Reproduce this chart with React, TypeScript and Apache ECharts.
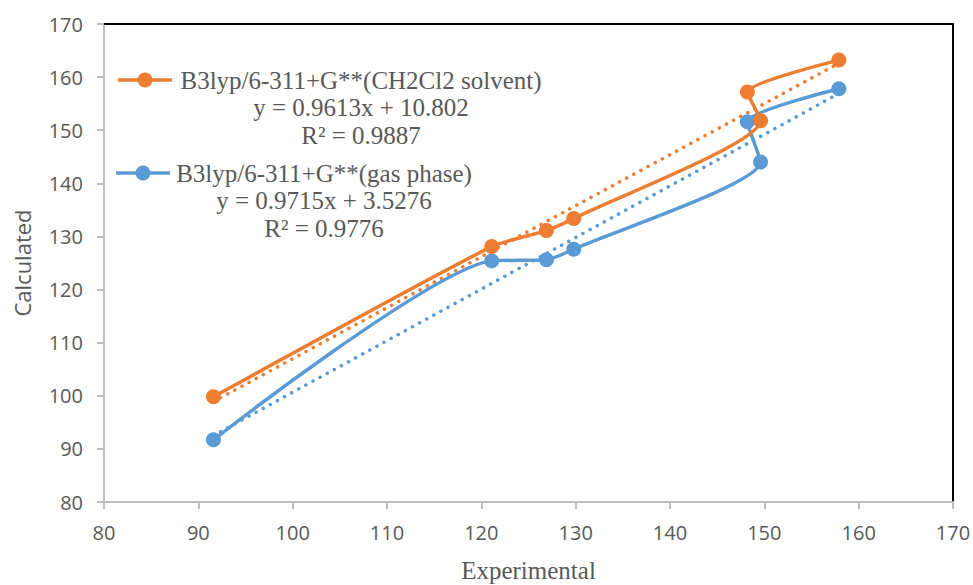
import React, { useEffect, useRef } from 'react';
import * as echarts from 'echarts';

const experimental = [91.6, 121.1, 126.9, 129.8, 149.6, 148.2, 157.9];
const solventCalc = [99.8, 128.1, 131.1, 133.4, 151.8, 157.2, 163.2];
const gasCalc = [91.7, 125.4, 125.6, 127.6, 144.0, 151.6, 157.8];

const solventTrend = [[91.6, 98.9], [157.9, 162.6]];
const gasTrend = [[91.6, 92.5], [157.9, 156.9]];

const seriesNames = ['B3lyp/6-311+G**(CH2Cl2 solvent)', 'B3lyp/6-311+G**(gas phase)'];
const equations = ['y = 0.9613x + 10.802', 'y = 0.9715x + 3.5276'];
const r2Labels = ['R² = 0.9887', 'R² = 0.9776'];

const ORANGE = '#ED7D31';
const BLUE = '#5B9BD5';
const TEXT = '#595959';
const AXIS = '#BFBFBF';

export default function App() {
  const ref = useRef<HTMLDivElement>(null);
  useEffect(() => {
    document.body.style.margin = '0';
    const chart = echarts.init(ref.current!, null, { renderer: 'svg' });
    const pairs = (ys: number[]) => experimental.map((x, i) => [x, ys[i]]);
    const dotted = { width: 3.5, type: [0.1, 8] as any, cap: 'round' as any };
    const legendFont = '25px "Liberation Serif"';
    const legendBlocks = [
      { color: ORANGE, cx: 361, y0: 80, iconX: 118 },
      { color: BLUE, cx: 324, y0: 173, iconX: 116 },
    ];
    const graphics: any[] = [];
    legendBlocks.forEach((b, i) => {
      graphics.push({
        type: 'line',
        shape: { x1: b.iconX, y1: b.y0, x2: b.iconX + 54, y2: b.y0 },
        style: { stroke: b.color, lineWidth: 3.5 },
      });
      graphics.push({
        type: 'circle',
        shape: { cx: b.iconX + 27, cy: b.y0, r: 7.5 },
        style: { fill: b.color },
      });
      [seriesNames[i], equations[i], r2Labels[i]].forEach((t, k) => {
        graphics.push({
          type: 'text',
          x: b.cx,
          y: b.y0 + k * 27.5,
          style: {
            text: t,
            font: legendFont,
            fill: TEXT,
            textAlign: 'center',
            textVerticalAlign: 'middle',
          },
        });
      });
    });

    const labelStyle = { fontFamily: 'Open Sans', fontSize: 20, color: TEXT };
    chart.setOption({
      animation: false,
      backgroundColor: '#ffffff',
      grid: { left: 104, right: 20, top: 24, bottom: 83, containLabel: false, outerBoundsMode: 'none' },
      xAxis: [
        {
          type: 'value', min: 80, max: 170, interval: 10, position: 'bottom',
          name: 'Experimental', nameLocation: 'middle', nameGap: 56,
          nameTextStyle: { fontFamily: 'Liberation Serif', fontSize: 25, color: TEXT },
          axisLine: { show: true, onZero: false, lineStyle: { color: AXIS, width: 2 } },
          axisTick: { show: true, length: 7, lineStyle: { color: AXIS, width: 2 } },
          axisLabel: { ...labelStyle, margin: 20 },
          splitLine: { show: false },
        },
        {
          type: 'value', min: 80, max: 170, interval: 10, position: 'top',
          axisLine: { show: true, onZero: false, lineStyle: { color: '#000000', width: 2 } },
          axisTick: { show: false }, axisLabel: { show: false }, splitLine: { show: false },
        },
      ],
      yAxis: [
        {
          type: 'value', min: 80, max: 170, interval: 10, position: 'left',
          name: 'Calculated', nameLocation: 'middle', nameGap: 71,
          nameTextStyle: { fontFamily: 'Open Sans', fontSize: 22, color: TEXT },
          axisLine: { show: true, onZero: false, lineStyle: { color: AXIS, width: 2 } },
          axisTick: { show: true, length: 7, lineStyle: { color: AXIS, width: 2 } },
          axisLabel: { ...labelStyle, margin: 21 },
          splitLine: { show: false },
        },
        {
          type: 'value', min: 80, max: 170, interval: 10, position: 'right',
          axisLine: { show: true, onZero: false, lineStyle: { color: '#000000', width: 2 } },
          axisTick: { show: false }, axisLabel: { show: false }, splitLine: { show: false },
        },
      ],
      series: [
        {
          name: 'gas trend', type: 'line', data: gasTrend, symbol: 'none',
          lineStyle: { ...dotted, color: BLUE }, silent: true,
        },
        {
          name: 'solvent trend', type: 'line', data: solventTrend, symbol: 'none',
          lineStyle: { ...dotted, color: ORANGE }, silent: true,
        },
        {
          name: seriesNames[1], type: 'line', data: pairs(gasCalc), smooth: 0.2,
          symbol: 'circle', symbolSize: 15,
          lineStyle: { width: 3.5, color: BLUE }, itemStyle: { color: BLUE },
        },
        {
          name: seriesNames[0], type: 'line', data: pairs(solventCalc), smooth: 0.2,
          symbol: 'circle', symbolSize: 15,
          lineStyle: { width: 3.5, color: ORANGE }, itemStyle: { color: ORANGE },
        },
      ],
      graphic: graphics,
    });
    return () => chart.dispose();
  }, []);
  return <div ref={ref} style={{ width: 973, height: 585, position: 'absolute', left: 0, top: 0 }} />;
}
